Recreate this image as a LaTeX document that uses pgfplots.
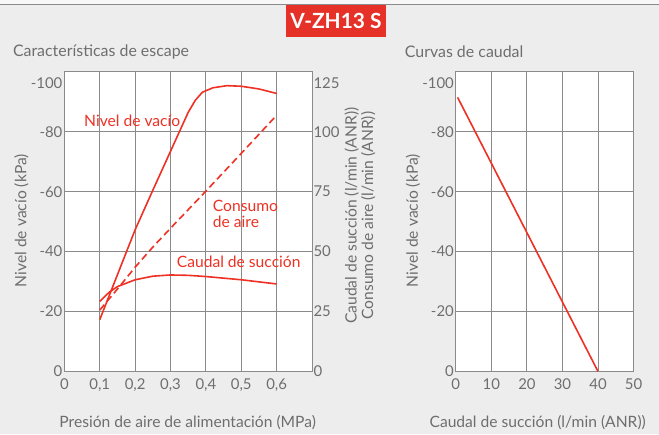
\documentclass[border=0pt]{standalone}
\usepackage{pgfplots}
\pgfplotsset{compat=1.18}
\usepackage{fontspec}
\setmainfont{Lato}
\definecolor{bg}{HTML}{EDEDED}
\definecolor{gridc}{HTML}{8A8A8A}
\definecolor{txt}{HTML}{6E6E6E}
\definecolor{red1}{HTML}{EE3124}
\definecolor{boxred}{HTML}{E53127}
\pgfplotsset{
  common/.style={
    scale only axis, height=300bp,
    axis line style={gridc, line width=0.9bp},
    grid=major, grid style={gridc, line width=0.9bp},
    major tick length=0pt,
    tick label style={txt, font=\fontsize{15}{17}\selectfont},
    xticklabel style={yshift=-3.5bp},
    /pgf/number format/assume math mode=true,
    /pgf/number format/use comma,
  },
  curve/.style={red1, line width=1.6bp, line join=round},
}
\begin{document}
\begin{tikzpicture}[x=1bp,y=1bp]
\fill[bg] (0,0) rectangle (659,435);
\fill[white!55!bg] (0,430) rectangle (659,435);
\draw[gridc, line width=1bp] (0,430) -- (659,430);
\fill[boxred] (286,398) rectangle (386,430);
\node[white, font=\fontsize{21}{24}\selectfont\bfseries] at (336,414) {V-ZH13 S};
\node[txt, anchor=west, font=\fontsize{16}{18}\selectfont] at (9,383.3) {Características de escape};
\node[txt, anchor=west, font=\fontsize{16}{18}\selectfont] at (401.5,383.3) {Curvas de caudal};

% ---------- left chart, vacuum level ----------
\begin{axis}[common, at={(64bp,63bp)}, anchor=south west, width=248bp,
  axis background/.style={fill=white},
  xmin=0, xmax=0.7, ymin=-100, ymax=0, y dir=reverse,
  xtick={0,0.1,0.2,0.3,0.4,0.5,0.6},
  xticklabel style={/pgf/number format/fixed, /pgf/number format/precision=1},
  yticklabel style={xshift=1.5bp},
  ytick={-80,-60,-40,-20,0},
  extra y ticks={-100}, extra y tick style={yticklabel style={yshift=-11bp}},
]
\addplot[curve] coordinates {
 (0.1,-17.3) (0.15,-32.3) (0.2,-47.3) (0.25,-60.5) (0.3,-73.5) (0.35,-86.5)
 (0.37,-90.5) (0.39,-93.2) (0.42,-94.7) (0.46,-95.4) (0.5,-95.2) (0.55,-94.3) (0.6,-92.8)};
\node[red1, anchor=west, font=\fontsize{15.7}{17}\selectfont] at (axis cs:0.046,-83.7) {Nivel de vacío};
\node[red1, anchor=west, align=left, font=\fontsize{15.7}{15.5}\selectfont] at (axis cs:0.41,-52.6) {Consumo\\de aire};
\node[red1, anchor=west, font=\fontsize{15.7}{17}\selectfont] at (axis cs:0.308,-36.7) {Caudal de succión};
\end{axis}

% ---------- left chart, flows (right axis) ----------
\begin{axis}[common, at={(64bp,63bp)}, anchor=south west, width=248bp,
  xmin=0, xmax=0.7, ymin=0, ymax=125,
  axis x line=none, axis y line*=right, grid=none,
  yticklabel style={xshift=-2bp},
  ytick={0,25,50,75,100},
  extra y ticks={125}, extra y tick style={yticklabel style={yshift=-11bp}},
]
\addplot[curve] coordinates {
 (0.1,29.25) (0.127,33.1) (0.15,35.4) (0.2,38.25) (0.25,39.75) (0.3,40.25)
 (0.35,40.1) (0.4,39.6) (0.5,38.25) (0.6,36.5)};
\addplot[curve, dash pattern=on 7bp off 4bp] coordinates {
 (0.1,25.6) (0.15,34.4) (0.2,43.5) (0.25,51.9) (0.3,59.75) (0.4,75.25) (0.5,91) (0.6,106.9)};
\end{axis}

% ---------- right chart ----------
\begin{axis}[common, at={(456bp,63bp)}, anchor=south west, width=178bp,
  axis background/.style={fill=white},
  xmin=0, xmax=50, ymin=-100, ymax=0, y dir=reverse,
  xtick={0,10,20,30,40,50},
  yticklabel style={xshift=1.5bp},
  ytick={-80,-60,-40,-20,0},
  extra y ticks={-100}, extra y tick style={yticklabel style={yshift=-11bp}},
]
\addplot[curve] coordinates {(0.5,-91.5) (40,0)};
\end{axis}

\node[txt, font=\fontsize{15.7}{17}\selectfont] at (187.5,12) {Presión de aire de alimentación (MPa)};
\node[txt, font=\fontsize{15.7}{17}\selectfont] at (538,12) {Caudal de succión (l/min (ANR))};
\node[txt, rotate=90, font=\fontsize{15.7}{17}\selectfont] at (21,214) {Nivel de vacío (kPa)};
\node[txt, rotate=90, font=\fontsize{15.7}{17}\selectfont] at (413,214) {Nivel de vacío (kPa)};
\node[txt, rotate=90, align=center, font=\fontsize{15.7}{16.6}\selectfont] at (360,219) {Caudal de succión (l/min (ANR))\\Consumo de aire (l/min (ANR))};
\end{tikzpicture}
\end{document}
